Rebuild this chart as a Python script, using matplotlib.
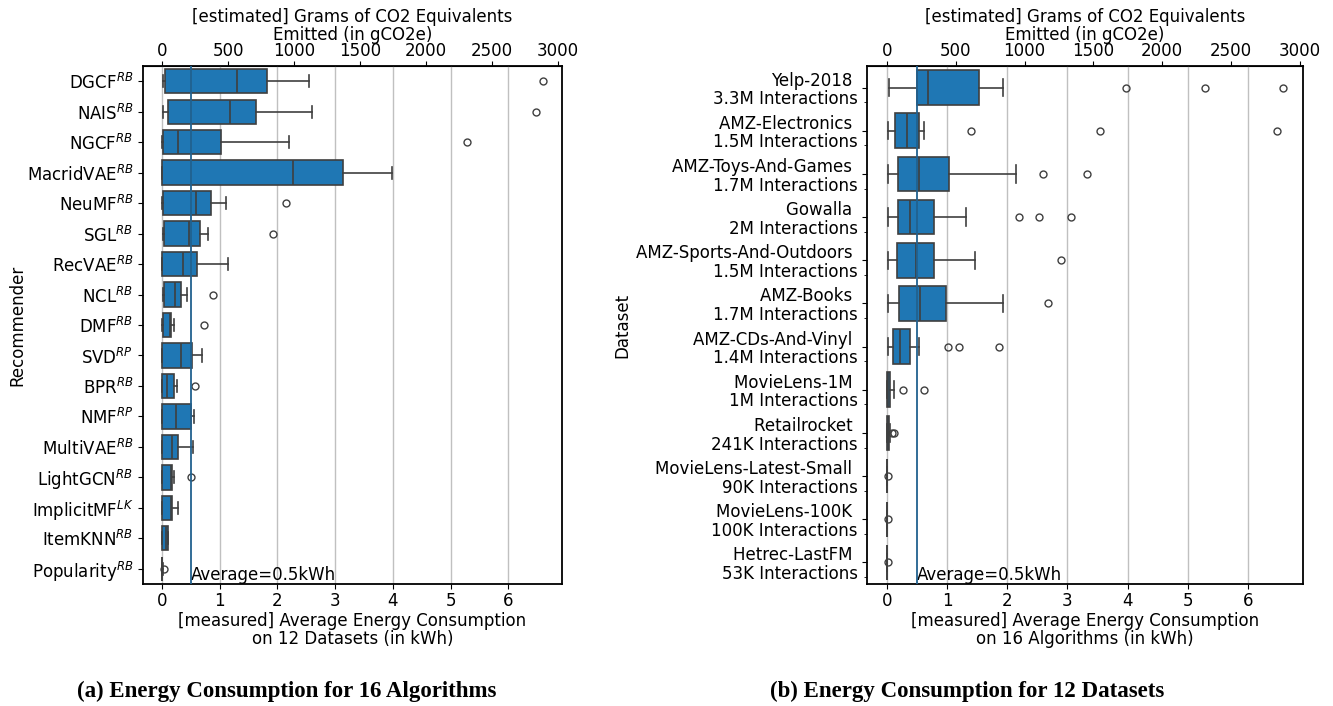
import matplotlib
matplotlib.use("Agg")
import matplotlib.pyplot as plt

# ---------------- data (kWh) ----------------
recommenders = [r"DGCF$^{RB}$", r"NAIS$^{RB}$", r"NGCF$^{RB}$", r"MacridVAE$^{RB}$",
                r"NeuMF$^{RB}$", r"SGL$^{RB}$", r"RecVAE$^{RB}$", r"NCL$^{RB}$",
                r"DMF$^{RB}$", r"SVD$^{RP}$", r"BPR$^{RB}$", r"NMF$^{RP}$",
                r"MultiVAE$^{RB}$", r"LightGCN$^{RB}$", r"ImplicitMF$^{LK}$",
                r"ItemKNN$^{RB}$", r"Popularity$^{RB}$"]
rec_whislo = [0.02, 0.02, 0.005, 0.0, 0.0, 0.02, 0.0, 0.02, 0.0, 0.0, 0.0, 0.0, 0.0, 0.0, 0.0, 0.0, 0.0]
rec_q1 = [0.05, 0.10, 0.02, 0.0, 0.01, 0.03, 0.0, 0.03, 0.01, 0.0, 0.0, 0.0, 0.0, 0.0, 0.0, 0.0, 0.0]
rec_med = [1.30, 1.18, 0.28, 2.27, 0.59, 0.47, 0.36, 0.23, 0.13, 0.33, 0.09, 0.24, 0.17, 0.16, 0.16, 0.075, 0.003]
rec_q3 = [1.82, 1.62, 1.02, 3.13, 0.84, 0.66, 0.61, 0.33, 0.16, 0.51, 0.21, 0.50, 0.28, 0.18, 0.18, 0.10, 0.006]
rec_whishi = [2.54, 2.60, 2.20, 3.99, 1.11, 0.79, 1.15, 0.43, 0.20, 0.69, 0.25, 0.55, 0.54, 0.21, 0.28, 0.10, 0.01]
rec_fliers = [[6.60], [6.48], [5.29], [], [2.14], [1.93], [], [0.89], [0.73], [], [0.57], [], [], [0.50], [], [], [0.03]]

datasets = ["Yelp-2018 \n3.3M Interactions", "AMZ-Electronics \n1.5M Interactions",
            "AMZ-Toys-And-Games \n1.7M Interactions", "Gowalla \n2M Interactions",
            "AMZ-Sports-And-Outdoors \n1.5M Interactions", "AMZ-Books \n1.7M Interactions",
            "AMZ-CDs-And-Vinyl \n1.4M Interactions", "MovieLens-1M \n1M Interactions",
            "Retailrocket \n241K Interactions", "MovieLens-Latest-Small \n90K Interactions",
            "MovieLens-100K \n100K Interactions", "Hetrec-LastFM \n53K Interactions"]
ds_whislo = [0.04, 0.01, 0.01, 0.01, 0.01, 0.01, 0.01, 0.0, 0.0, 0.0, 0.0, 0.0]
ds_q1 = [0.49, 0.13, 0.18, 0.18, 0.16, 0.20, 0.10, 0.0, 0.005, 0.0, 0.0, 0.0]
ds_med = [0.68, 0.33, 0.53, 0.38, 0.48, 0.54, 0.21, 0.01, 0.02, 0.0, 0.0, 0.0]
ds_q3 = [1.53, 0.53, 1.03, 0.78, 0.78, 0.98, 0.38, 0.05, 0.04, 0.003, 0.003, 0.003]
ds_whishi = [1.93, 0.61, 2.14, 1.31, 1.46, 1.93, 0.53, 0.12, 0.05, 0.005, 0.005, 0.005]
ds_fliers = [[3.98, 5.29, 6.59], [1.39, 3.54, 6.48], [2.59, 3.32], [2.19, 2.53, 3.06],
             [2.89], [2.67], [1.02, 1.19, 1.87], [0.26, 0.61], [0.08, 0.12],
             [0.01], [0.01], [0.01]]

average_kwh = 0.5
g_per_kwh = 437.0
top_ticks = [0, 500, 1000, 1500, 2000, 2500, 3000]
bottom_ticks = [0, 1, 2, 3, 4, 5, 6]

# ---------------- figure ----------------
plt.rcParams['font.family'] = ['DejaVu Sans']
FS = 12
LS = 1.0
fig = plt.figure(figsize=(13.33, 7.06), dpi=100)

BOX = '#1f77b4'
LINE = '#3f3f3f'


def draw(ax, labels, whislo, q1, med, q3, whishi, fliers, xlabel, ylabel, ylabelpad,
         minor_ticks=False):
    n = len(labels)
    stats = []
    for i in range(n):
        stats.append(dict(whislo=whislo[i], q1=q1[i], med=med[i], q3=q3[i],
                          whishi=whishi[i], fliers=fliers[i]))
    ax.bxp(stats, positions=list(range(n)), widths=0.8, orientation='horizontal',
           patch_artist=True, capwidths=0.4,
           boxprops=dict(facecolor=BOX, edgecolor=LINE, linewidth=1.2),
           whiskerprops=dict(color=LINE, linewidth=1.2),
           capprops=dict(color=LINE, linewidth=1.2),
           medianprops=dict(color=LINE, linewidth=1.2),
           flierprops=dict(marker='o', markerfacecolor='none', markeredgecolor=LINE,
                           markersize=5, markeredgewidth=1.0),
           manage_ticks=False)
    ax.set_ylim(n - 0.5, -0.5)
    ax.set_yticks(range(n))
    ax.set_yticklabels(labels, fontsize=FS, linespacing=1.05)
    if minor_ticks:
        ax.set_yticks([i + 0.34 for i in range(n)], minor=True)
    ax.margins(x=0.05)
    ax.set_xticks(bottom_ticks)
    ax.tick_params(axis='x', labelsize=FS, pad=2.5)
    ax.set_axisbelow(True)
    ax.grid(axis='x', color='#c0c0c0', linewidth=1.0)
    ax.axvline(average_kwh, color='#21618f', linewidth=1.3, zorder=4)
    ax.text(average_kwh, n - 0.5, "Average=0.5kWh", fontsize=FS, ha='left', va='bottom')
    ax.set_xlabel(xlabel, fontsize=FS, linespacing=LS, labelpad=1)
    ax.set_ylabel(ylabel, fontsize=FS, labelpad=ylabelpad)
    for s in ax.spines.values():
        s.set_linewidth(1.3)
    sec = ax.secondary_xaxis('top', functions=(lambda x: x * g_per_kwh, lambda g: g / g_per_kwh))
    sec.set_xticks(top_ticks)
    sec.tick_params(labelsize=FS, pad=1.0)
    sec.set_xlabel("[estimated] Grams of CO2 Equivalents\nEmitted (in gCO2e)", fontsize=FS,
                   linespacing=LS, labelpad=1)


ax1 = fig.add_axes([0.1073, 0.1728, 0.3143, 0.7337])
draw(ax1, recommenders, rec_whislo, rec_q1, rec_med, rec_q3, rec_whishi, rec_fliers,
     "[measured] Average Energy Consumption\non 12 Datasets (in kWh)", "Recommender", 0)

ax2 = fig.add_axes([0.6506, 0.1728, 0.3269, 0.7337])
draw(ax2, datasets, ds_whislo, ds_q1, ds_med, ds_q3, ds_whishi, ds_fliers,
     "[measured] Average Energy Consumption\non 16 Algorithms (in kWh)", "Dataset", 3,
     minor_ticks=True)

fig.text(0.2153, 0.021, "(a) Energy Consumption for 16 Algorithms", ha='center', va='center',
         fontsize=16.5, fontweight='bold', family=['Liberation Serif', 'DejaVu Serif'])
fig.text(0.7254, 0.021, "(b) Energy Consumption for 12 Datasets", ha='center', va='center',
         fontsize=16.5, fontweight='bold', family=['Liberation Serif', 'DejaVu Serif'])

fig.savefig("out.png", dpi=100)
